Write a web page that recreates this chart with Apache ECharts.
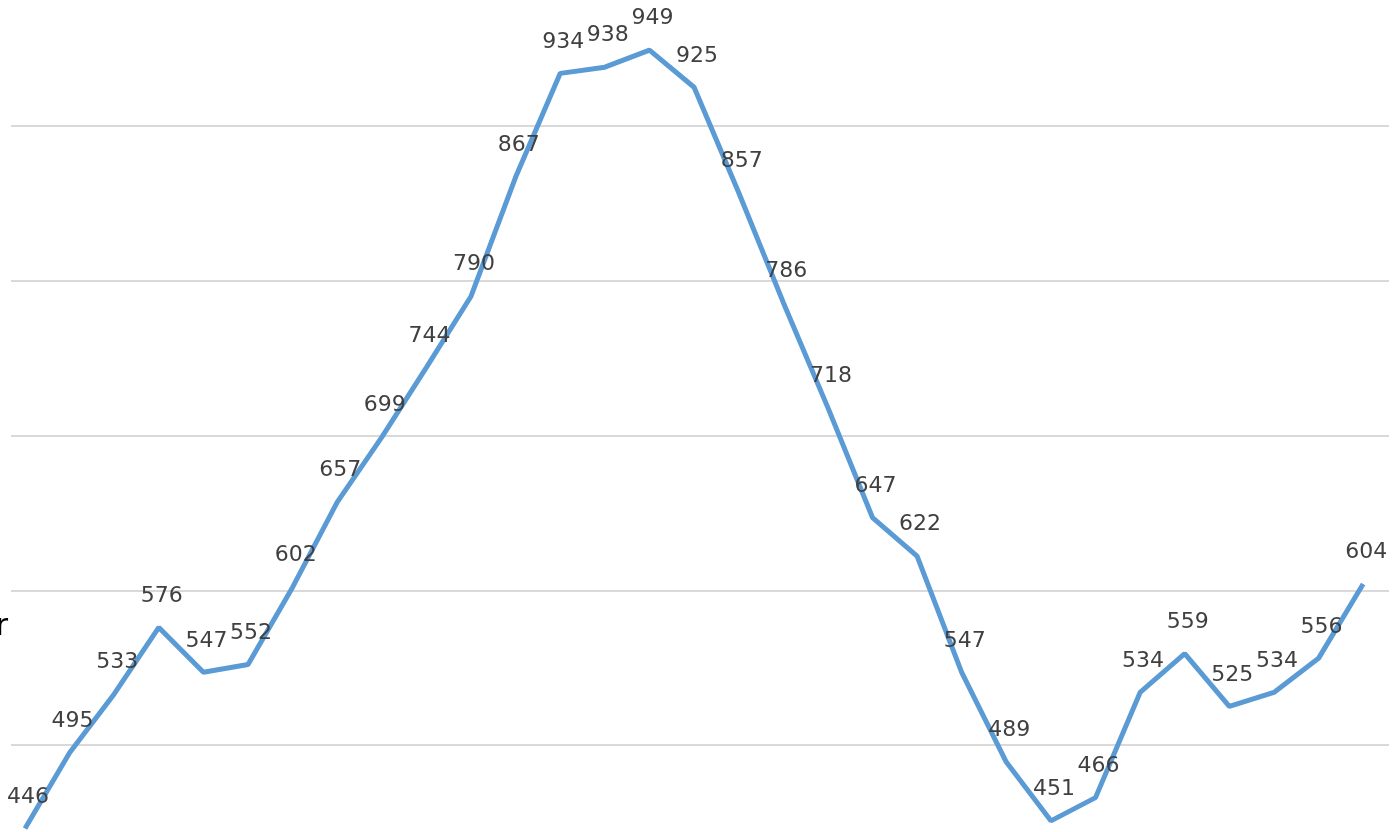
<!DOCTYPE html>
<html>
<head>
<meta charset="utf-8">
<script src="https://cdn.jsdelivr.net/npm/echarts@6/dist/echarts.min.js"></script>
<style>html,body{margin:0;padding:0;background:#fff;}#c{width:1395px;height:832px;}</style>
</head>
<body>
<div id="c"></div>
<script>
const categories = [1,2,3,4,5,6,7,8,9,10,11,12,13,14,15,16,17,18,19,20,21,22,23,24,25,26,27,28,29,30,31];
const values = [446,495,533,576,547,552,602,657,699,744,790,867,934,938,949,925,857,786,718,647,622,547,489,451,466,534,559,525,534,556,604];
const gridValues = [500,600,700,800,900];
const yMin = 443.8, yMax = 981.4;

const chart = echarts.init(document.getElementById('c'), null, {renderer:'canvas'});
chart.setOption({
  animation: false,
  backgroundColor: '#ffffff',
  grid: {left: 11, right: 6, top: 0, bottom: 0, containLabel: false},
  xAxis: {
    type: 'value', min: -0.314, max: 30.58,
    axisLine:{show:false}, axisTick:{show:false}, axisLabel:{show:false}, splitLine:{show:false}
  },
  yAxis: {
    type: 'value', min: yMin, max: yMax,
    axisLine:{show:false}, axisTick:{show:false}, axisLabel:{show:false},
    splitLine:{show:false}
  },
  graphic: [{
    type:'text', x: 8, y: 612,
    style:{text:'r', fill:'#000', font:'30px "DejaVu Sans"', textAlign:'right', textVerticalAlign:'top'}
  }],
  series: [{
    type: 'line',
    data: values.map((v,i)=>[i, v]),
    symbol: 'circle',
    symbolSize: 1,
    showSymbol: true,
    showAllSymbol: true,
    itemStyle: {color:'rgba(91,155,213,0)'},
    clip: false,
    lineStyle: {color:'#5B9BD5', width:5},
    label: {
      show: true, position: 'top', distance: 20,
      color:'#404040', fontFamily:'DejaVu Sans', fontSize: 22,
      padding: [0,0,0,6],
      formatter: p => String(p.value[1])
    },
    labelLayout: {hideOverlap: false},
    markLine: {
      silent: true, symbol: ['none','none'],
      label: {show:false},
      lineStyle: {color:'#d9d9d9', width:2, type:'solid'},
      data: gridValues.map(v => ({yAxis: v})),
      z: 1
    }
  }]
});
</script>
</body>
</html>
